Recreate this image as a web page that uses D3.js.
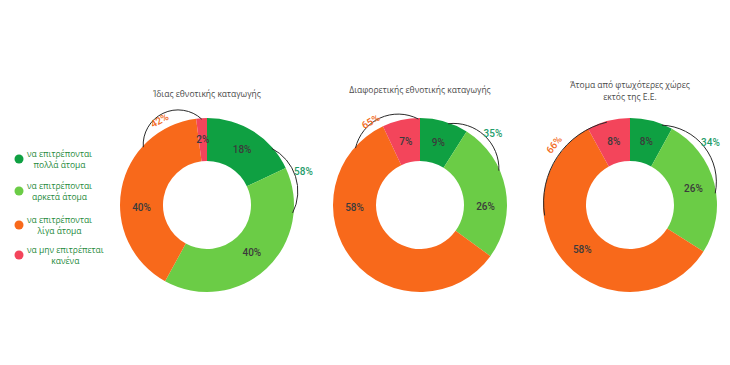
<!DOCTYPE html>
<html><head><meta charset="utf-8">
<script src="https://cdn.jsdelivr.net/npm/d3@7/dist/d3.min.js"></script>
<style>body{margin:0;background:#fff;}svg{display:block}</style>
</head><body>
<script>
// ---------- DATA ----------
const categories = ["να επιτρέπονται πολλά άτομα","να επιτρέπονται αρκετά άτομα","να επιτρέπονται λίγα άτομα","να μην επιτρέπεται κανένα"];
const legendLines = [["να επιτρέπονται","πολλά άτομα"],["να επιτρέπονται","αρκετά άτομα"],["να επιτρέπονται","λίγα άτομα"],["να μην επιτρέπεται","κανένα"]];
const chartTitles = [["Ίδιας εθνοτικής καταγωγής"],["Διαφορετικής εθνοτικής καταγωγής"],["Άτομα από φτωχότερες χώρες","εκτός της Ε.Ε."]];
const valuesSameOrigin = [18, 40, 40, 2];
const valuesOtherOrigin = [9, 26, 58, 7];
const valuesPoorerNonEU = [8, 26, 58, 8];
const seriesValues = [valuesSameOrigin, valuesOtherOrigin, valuesPoorerNonEU];
// groups summed for the outer brackets: [indices]
const groupGreen = [0, 1];
const groupOrange = [2, 3];

// ---------- LAYOUT / STYLE ----------
const W = 730, H = 365;
const colors = ["#0fa042", "#6bcc46", "#f8691b", "#f3455b"];
const centersX = [207, 420, 630];
const centerY = 205;
const R = 87, r0 = 44;
const titleY = [[94], [90], [85, 97]];
// label angle overrides (deg) where the source moved the label off the centroid
const labelAngleOverride = [[null, null, 268, null], [null, 91, 268, null], [null, null, null, null]];
// bracket geometry: [startDeg, endDeg, sagitta, labelDeg, labelRotate]
const bracketsGreen = [[48.8, 95.3, 14, 71, false], [19.1, 66.5, 16, 45.6, false], [21.8, 82.2, 20, 52, false]];
const bracketsOrange = [[-47.8, -3.5, 22, -29.3, true], [-48.6, -1.1, 17, -30.6, true], [-97, -15.6, 22, -51.6, true]];
const greenLabelColor = "#1f9d6b", orangeLabelColor = "#f2691c";

const svg = d3.select("body").append("svg").attr("width", W).attr("height", H);

const pie = d3.pie().sort(null).value(d => d);
const arc = d3.arc().innerRadius(r0).outerRadius(R);
const rad = d => d * Math.PI / 180;
const polar = (deg, rr) => [rr * Math.sin(rad(deg)), -rr * Math.cos(rad(deg))];

function bracketPath(a1, a2, s) {
  const rr = R - 1;
  const p1 = polar(a1, rr), p2 = polar(a2, rr);
  const c = Math.hypot(p2[0] - p1[0], p2[1] - p1[1]);
  const rc = (c * c / 4 + s * s) / (2 * s);
  return `M${p1[0]},${p1[1]}A${rc},${rc} 0 0 1 ${p2[0]},${p2[1]}`;
}

seriesValues.forEach((vals, ci) => {
  const g = svg.append("g").attr("transform", `translate(${centersX[ci]},${centerY})`);
  const arcs = pie(vals);
  g.selectAll("path.slice").data(arcs).join("path")
    .attr("class", "slice")
    .attr("d", arc)
    .attr("fill", (d, i) => colors[i]);

  g.selectAll("text.val").data(arcs).join("text")
    .attr("class", "val")
    .attr("transform", (d, i) => {
      const ov = labelAngleOverride[ci][i];
      if (ov === null) return `translate(${arc.centroid(d)})`;
      return `translate(${polar(ov, (R + r0) / 2)})`;
    })
    .attr("text-anchor", "middle").attr("dy", "0.35em")
    .attr("font-family", "Roboto, sans-serif").attr("font-weight", 500)
    .attr("font-size", 10).attr("fill", "#3b3b3b")
    .text(d => d.value + "%");

  // brackets
  [[bracketsGreen[ci], groupGreen, greenLabelColor], [bracketsOrange[ci], groupOrange, orangeLabelColor]].forEach(([b, grp, col]) => {
    g.append("path").attr("d", bracketPath(b[0], b[1], b[2]))
      .attr("fill", "none").attr("stroke", "#2a2a2a").attr("stroke-width", 1);
    const total = d3.sum(grp, i => vals[i]);
    const pos = polar(b[3], b[4] ? 97 : 102);
    g.append("text")
      .attr("transform", `translate(${pos})` + (b[4] ? ` rotate(${b[3]})` : ""))
      .attr("text-anchor", "middle").attr("dy", "0.35em")
      .attr("font-family", "Roboto, sans-serif").attr("font-weight", 500)
      .attr("font-size", 10).attr("fill", col)
      .text(total + "%");
  });

  // title
  const t = svg.append("text").attr("text-anchor", "middle")
    .attr("font-family", "'Open Sans', sans-serif").attr("font-size", 8.5).attr("fill", "#4a4a4a");
  chartTitles[ci].forEach((line, li) => {
    t.append("tspan").attr("x", centersX[ci]).attr("y", titleY[ci][li]).attr("dy", "0.35em").text(line);
  });
});

// legend
const legendY = [159, 191, 225, 255];
const lg = svg.append("g");
categories.forEach((c, i) => {
  const y = legendY[i];
  lg.append("circle").attr("cx", 19).attr("cy", y).attr("r", 4.5).attr("fill", colors[i]);
  const l1 = lg.append("text").attr("x", 27).attr("y", y - 5).attr("dy", "0.35em")
    .attr("font-family", "'Open Sans', sans-serif").attr("font-size", 8.5).attr("fill", "#1f8a3c")
    .text(legendLines[i][0]);
  const w = l1.node().getComputedTextLength();
  lg.append("text").attr("x", 27 + w / 2).attr("y", y + 6).attr("dy", "0.35em").attr("text-anchor", "middle")
    .attr("font-family", "'Open Sans', sans-serif").attr("font-size", 8.5).attr("fill", "#1f8a3c")
    .text(legendLines[i][1]);
});
</script>
</body></html>
